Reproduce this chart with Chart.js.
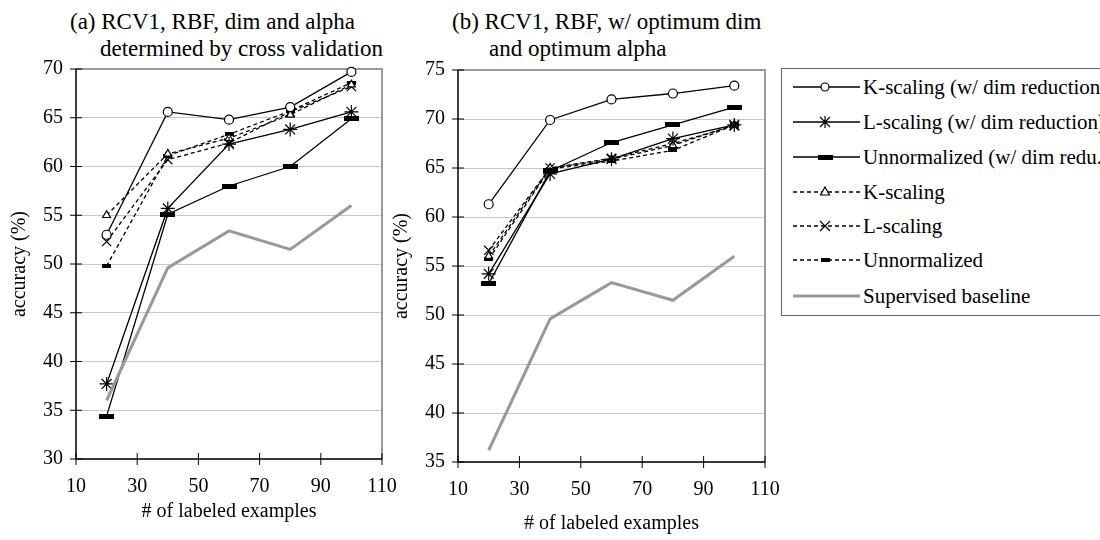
<!DOCTYPE html>
<html>
<head>
<meta charset="utf-8">
<script src="https://cdn.jsdelivr.net/npm/chart.js@4.4.1/dist/chart.umd.min.js"></script>
<style>
body { margin: 0; background: #fff; width: 1100px; height: 540px; overflow: hidden; position: relative; font-family: "Liberation Serif", serif; color: #000; }
.plot { position: absolute; top: 0; }
.ttl { position: absolute; font-size: 23px; line-height: 27px; white-space: nowrap; }
#legend { position: absolute; left: 781px; top: 68px; width: 340px; height: 248px; border: 1px solid #666; box-sizing: border-box; }
.row { position: absolute; left: 0; height: 30px; width: 340px; }
.row canvas { position: absolute; left: 11px; top: 0; }
.row span { position: absolute; left: 81px; top: 0; font-size: 21px; line-height: 30px; white-space: nowrap; }
</style>
</head>
<body>
<div class="ttl" style="left:70px;top:8px">(a) RCV1, RBF, dim and alpha</div>
<div class="ttl" style="left:100px;top:35px">determined by cross validation</div>
<div class="ttl" style="left:452px;top:8px">(b) RCV1, RBF, w/ optimum dim</div>
<div class="ttl" style="left:489px;top:35px">and optimum alpha</div>
<canvas id="chartA" class="plot" width="400" height="540" style="left:0px"></canvas>
<canvas id="chartB" class="plot" width="400" height="540" style="left:380px"></canvas>
<div id="legend"></div>
<script>
// x values (# of labeled examples)
var xs = [20, 40, 60, 80, 100];

// (a) dim and alpha by cross validation
var aKdim = [53.0, 65.6, 64.8, 66.1, 69.7];
var aLdim = [37.7, 55.7, 62.3, 63.8, 65.6];
var aUdim = [34.4, 55.1, 58.0, 60.0, 64.9];
var aK = [55.0, 61.3, 62.9, 65.3, 68.4];
var aL = [52.3, 60.7, 62.4, 65.6, 68.2];
var aU = [49.8, 61.1, 63.3, 65.7, 68.6];
var aBase = [36.0, 49.6, 53.4, 51.5, 56.0];

// (b) optimum dim and alpha
var bKdim = [61.3, 69.9, 72.0, 72.6, 73.4];
var bLdim = [54.2, 64.4, 65.9, 68.0, 69.4];
var bUdim = [53.2, 64.7, 67.6, 69.4, 71.2];
var bK = [56.0, 65.0, 65.9, 67.3, 69.4];
var bL = [56.6, 65.0, 66.0, 67.5, 69.3];
var bU = [55.7, 64.9, 65.7, 66.8, 69.4];
var bBase = [36.2, 49.6, 53.3, 51.5, 56.0];

var seriesNames = ["K-scaling (w/ dim reduction)", "L-scaling (w/ dim reduction)", "Unnormalized (w/ dim redu.)",
  "K-scaling", "L-scaling", "Unnormalized", "Supervised baseline"];

function barImg(w, h) {
  var c = document.createElement('canvas');
  c.width = w; c.height = h;
  var g = c.getContext('2d');
  g.fillStyle = '#000';
  g.fillRect(0, 0, w, h);
  return c;
}
var bigBar = barImg(15, 5);
var smallBar = barImg(9, 4);

var dash = [4, 3];
var styles = [
  { pointStyle: 'circle', radius: 4.5, bg: '#fff', dash: [] },
  { pointStyle: 'star', radius: 7, bg: '#fff', dash: [] },
  { pointStyle: bigBar, radius: 5, bg: '#000', dash: [] },
  { pointStyle: 'triangle', radius: 4.5, bg: '#fff', dash: dash },
  { pointStyle: 'crossRot', radius: 6.5, bg: '#fff', dash: dash },
  { pointStyle: smallBar, radius: 4, bg: '#000', dash: dash }
];

function makeSets(lists, base) {
  var sets = [{
    label: seriesNames[6],
    data: xs.map(function (x, i) { return { x: x, y: base[i] }; }),
    borderColor: '#999', borderWidth: 3, pointRadius: 0, fill: false, clip: false
  }];
  lists.forEach(function (vals, k) {
    var s = styles[k];
    sets.push({
      label: seriesNames[k],
      data: xs.map(function (x, i) { return { x: x, y: vals[i] }; }),
      borderColor: '#000', borderWidth: 1.3, borderDash: s.dash,
      pointStyle: s.pointStyle, pointRadius: s.radius, pointBorderWidth: 1.2,
      pointBackgroundColor: s.bg, pointBorderColor: '#000', fill: false, clip: false
    });
  });
  return sets;
}

var frame = {
  id: 'frame',
  beforeDatasetsDraw: function (chart) {
    var c = chart.ctx, a = chart.chartArea, sx = chart.scales.x, sy = chart.scales.y;
    c.save();
    c.strokeStyle = '#999'; c.lineWidth = 2;
    c.beginPath(); c.moveTo(a.left, a.top); c.lineTo(a.right, a.top); c.lineTo(a.right, a.bottom); c.stroke();
    c.strokeStyle = '#000'; c.lineWidth = 1.5;
    c.beginPath(); c.moveTo(a.left, a.top); c.lineTo(a.left, a.bottom); c.lineTo(a.right, a.bottom); c.stroke();
    c.lineWidth = 1;
    c.beginPath();
    sx.ticks.forEach(function (t) {
      var p = sx.getPixelForValue(t.value);
      c.moveTo(p, a.bottom - 6); c.lineTo(p, a.bottom + 6);
    });
    sy.ticks.forEach(function (t) {
      var p = sy.getPixelForValue(t.value);
      c.moveTo(a.left - 6, p); c.lineTo(a.left + 6, p);
    });
    c.stroke();
    c.restore();
  }
};

var tickFont = { family: '"Liberation Serif", serif', size: 20 };
var titleFont = { family: '"Liberation Serif", serif', size: 20 };

function makeChart(id, sets, ymin, ymax, pad, yw, xh, ytPad, xtPad) {
  return new Chart(document.getElementById(id), {
    type: 'line',
    data: { datasets: sets },
    plugins: [frame],
    options: {
      responsive: false,
      animation: false,
      layout: { padding: pad },
      plugins: { legend: { display: false }, tooltip: { enabled: false } },
      scales: {
        x: {
          type: 'linear', min: 10, max: 110,
          ticks: { stepSize: 20, color: '#000', font: tickFont, padding: 16, maxRotation: 0 },
          grid: { display: false, drawTicks: false },
          border: { display: false },
          title: { display: true, text: '# of labeled examples', color: '#000', font: titleFont, padding: { top: 0, bottom: xtPad } },
          afterFit: function (s) { s.height = xh; s.paddingLeft = 0; s.paddingRight = 0; }
        },
        y: {
          min: ymin, max: ymax,
          ticks: { stepSize: 5, color: '#000', font: tickFont, padding: 13 },
          grid: { color: '#c8c8c8', lineWidth: 1, drawTicks: false },
          border: { display: false },
          title: { display: true, text: 'accuracy (%)', color: '#000', font: titleFont, padding: { top: ytPad, bottom: 0 } },
          afterFit: function (s) { s.width = yw; s.paddingTop = 0; s.paddingBottom = 0; }
        }
      }
    }
  });
}

var chartA = makeChart('chartA', makeSets([aKdim, aLdim, aUdim, aK, aL, aU], aBase), 30, 70,
  { top: 69, right: 18, left: 0, bottom: 0 }, 76, 81, 8, 16);
var chartB = makeChart('chartB', makeSets([bKdim, bLdim, bUdim, bK, bL, bU], bBase), 35, 75,
  { top: 70, right: 15, left: 0, bottom: 0 }, 78, 78, 10, 4);

// legend with line samples
var legend = document.getElementById('legend');
var rowTops = [3, 38, 73, 108, 142, 176, 212];
seriesNames.forEach(function (name, k) {
  var row = document.createElement('div');
  row.className = 'row';
  row.style.top = rowTops[k] + 'px';
  var cv = document.createElement('canvas');
  cv.width = 70; cv.height = 30;
  var g = cv.getContext('2d');
  g.strokeStyle = k === 6 ? '#999' : '#000';
  g.lineWidth = k === 6 ? 3 : 1.3;
  g.setLineDash(k >= 3 && k < 6 ? dash : []);
  g.beginPath(); g.moveTo(0, 15); g.lineTo(67, 15); g.stroke();
  g.setLineDash([]);
  g.lineWidth = 1.2;
  var cx = 32, cy = 15;
  if (k === 0) {
    g.fillStyle = '#fff'; g.beginPath(); g.arc(cx, cy, 4, 0, Math.PI * 2); g.fill(); g.stroke();
  } else if (k === 1) {
    g.beginPath();
    g.moveTo(cx, cy - 6); g.lineTo(cx, cy + 6);
    g.moveTo(cx - 5, cy - 5); g.lineTo(cx + 5, cy + 5);
    g.moveTo(cx - 5, cy + 5); g.lineTo(cx + 5, cy - 5);
    g.stroke();
  } else if (k === 2) {
    g.fillStyle = '#000'; g.fillRect(cx - 7, cy - 2, 15, 5);
  } else if (k === 3) {
    g.fillStyle = '#fff'; g.beginPath(); g.moveTo(cx, cy - 5); g.lineTo(cx + 4.5, cy + 3); g.lineTo(cx - 4.5, cy + 3); g.closePath(); g.fill(); g.stroke();
  } else if (k === 4) {
    g.beginPath(); g.moveTo(cx - 5, cy - 5); g.lineTo(cx + 5, cy + 5); g.moveTo(cx - 5, cy + 5); g.lineTo(cx + 5, cy - 5); g.stroke();
  } else if (k === 5) {
    g.fillStyle = '#000'; g.fillRect(cx - 4, cy - 2, 9, 4);
  }
  row.appendChild(cv);
  var sp = document.createElement('span');
  sp.textContent = name;
  row.appendChild(sp);
  legend.appendChild(row);
});
</script>
</body>
</html>
